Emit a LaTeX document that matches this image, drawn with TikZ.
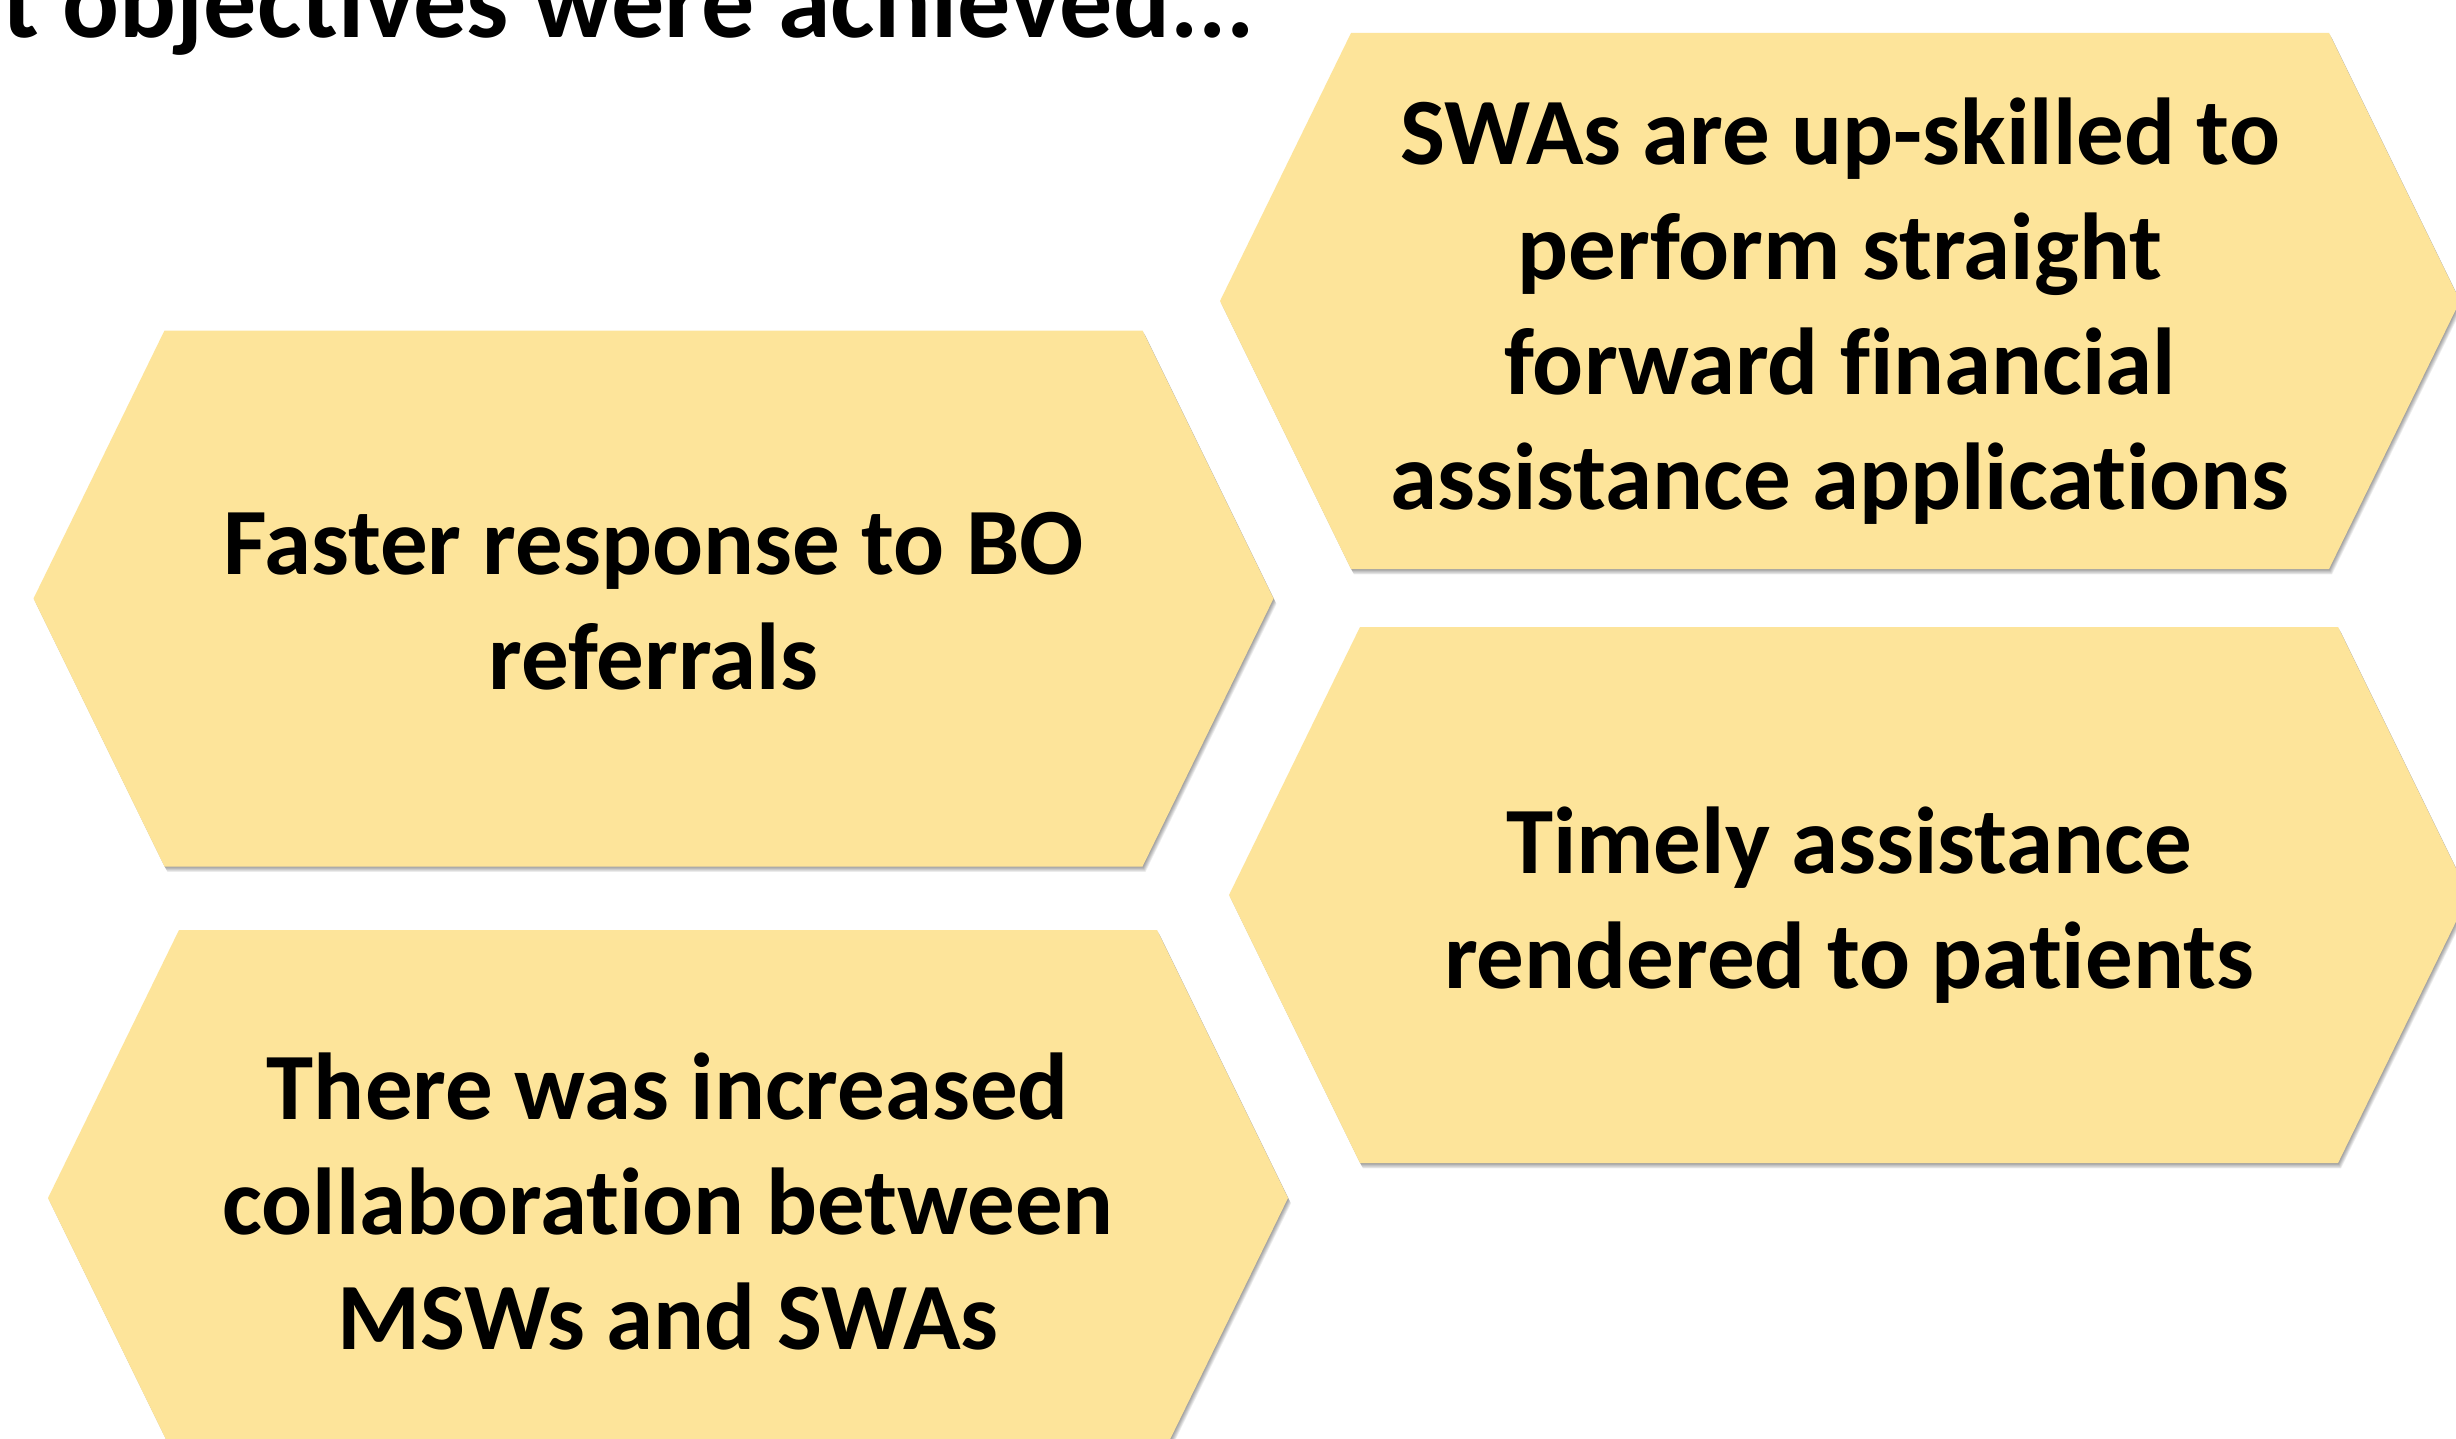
\documentclass[tikz,border=0pt]{standalone}
\usepackage{fontspec}
\setmainfont{Carlito}[Ligatures=NoCommon]
\definecolor{hexyellow}{HTML}{FDE49A}
\tikzset{
  pics/hexcard/.style={code={
    % soft drop shadow built from stacked translucent copies
    \foreach \k in {1,...,6}{
      \fill[black, opacity=0.07, shift={(0.5*\k,0.9*\k)}]
        (-620,0) -- (-489,-268) -- (489,-268) -- (620,0) -- (489,268) -- (-489,268) -- cycle;
    }
    \fill[hexyellow]
      (-620,0) -- (-489,-268) -- (489,-268) -- (620,0) -- (489,268) -- (-489,268) -- cycle;
  }},
  cardtext/.style={align=center, text=black, inner sep=0pt, yshift=-20pt,
    font=\fontsize{95}{115}\selectfont\bfseries,
    execute at begin node=\strut, execute at end node=\strut},
  headtext/.style={anchor=base west, inner sep=0pt, text=black,
    font=\fontsize{106}{127}\selectfont\bfseries}
}
\begin{document}
\begin{tikzpicture}[x=1pt, y=-1pt]
  \useasboundingbox (0,0) rectangle (2456,1439);
  \fill[white] (0,0) rectangle (2456,1439);
  \clip (0,0) rectangle (2456,1439);

  % heading line, partly outside the frame
  \node[headtext] (head) at (2,38) {t objectives were achieved...};

  % hexagonal cards
  \pic at (653.5,598.5) {hexcard};
  \pic at (1840,301) {hexcard};
  \pic at (1849,895) {hexcard};
  \pic at (668,1198) {hexcard};

  \node[cardtext] (faster) at (653.5,598.5) {Faster response to BO\\referrals};
  \node[cardtext] (swa) at (1840,301) {SWAs are up-skilled to\\perform straight\\forward financial\\assistance applications};
  \node[cardtext] (timely) at (1849,895) {Timely assistance\\rendered to patients};
  \node[cardtext] (collab) at (668,1198) {There was increased\\collaboration between\\MSWs and SWAs};
\end{tikzpicture}
\end{document}
